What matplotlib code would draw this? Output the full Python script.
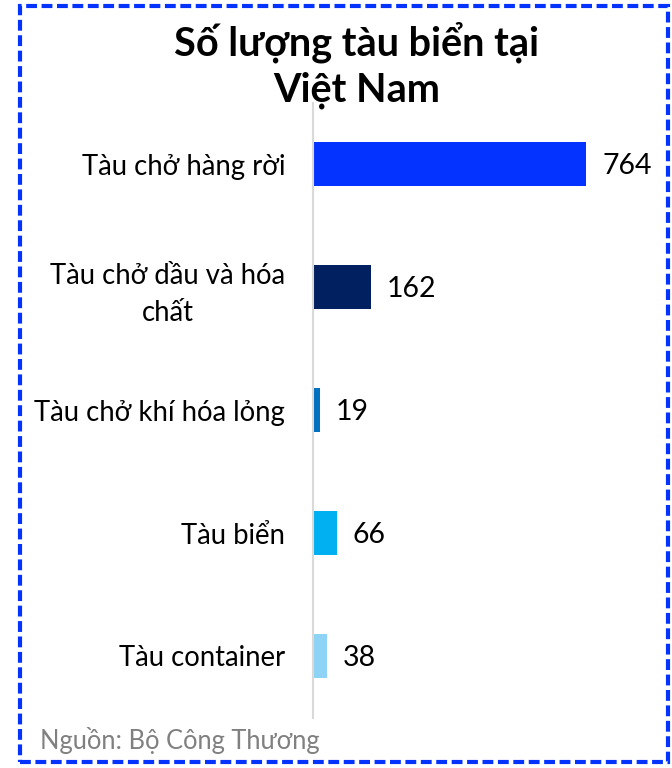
import matplotlib
matplotlib.use("Agg")
import matplotlib.pyplot as plt
from matplotlib.patches import Rectangle

categories = ["Tàu chở hàng rời", "Tàu chở dầu và hóa\nchất", "Tàu chở khí hóa lỏng", "Tàu biển", "Tàu container"]
values = [764, 162, 19, 66, 38]
colors = ["#0433FF", "#002060", "#0070C0", "#00B0F0", "#8DD3F5"]
title_lines = ["Số lượng tàu biển tại", "Việt Nam"]
source = "Nguồn: Bộ Công Thương"

plt.rcParams['font.family'] = ['Lato', 'DejaVu Sans']

W, H = 672, 768
fig = plt.figure(figsize=(W/100, H/100), dpi=100)
ax = fig.add_axes([313/W, 1-717.5/H, 347/W, 615/H])

ypos = list(range(len(categories)))
ax.barh(ypos, values, height=0.36, color=colors)
ax.set_ylim(4.5, -0.5)
ax.set_xlim(0, 971)
for s in ["top", "right", "bottom"]:
    ax.spines[s].set_visible(False)
ax.spines["left"].set_color("#D9D9D9")
ax.spines["left"].set_linewidth(1.5)
ax.set_xticks([])
ax.set_yticks(ypos)
ax.set_yticklabels(categories, fontsize=19.8, multialignment="center", linespacing=1.5)
ax.tick_params(axis="y", length=0, pad=20)

for y, v in zip(ypos, values):
    ax.annotate(str(v), (v, y), xytext=(16, -2), textcoords="offset pixels",
                va="center", ha="left", fontsize=20.5, color="black")

fig.text(357/W, 1-42/H, title_lines[0], ha="center", va="center", fontsize=28.5, fontweight="bold")
fig.text(357/W, 1-90/H, title_lines[1], ha="center", va="center", fontsize=28.5, fontweight="bold")
fig.text(40/W, 1-740/H, source, ha="left", va="center", fontsize=18.4, color="#808080")

rect = Rectangle((20/W, 6/H), 648/W, 756/H, transform=fig.transFigure, fill=False,
                 edgecolor="#0433FF", linewidth=3, linestyle=(0, (2.6, 1.1)))
fig.patches.append(rect)

fig.savefig("out.png", dpi=100)
